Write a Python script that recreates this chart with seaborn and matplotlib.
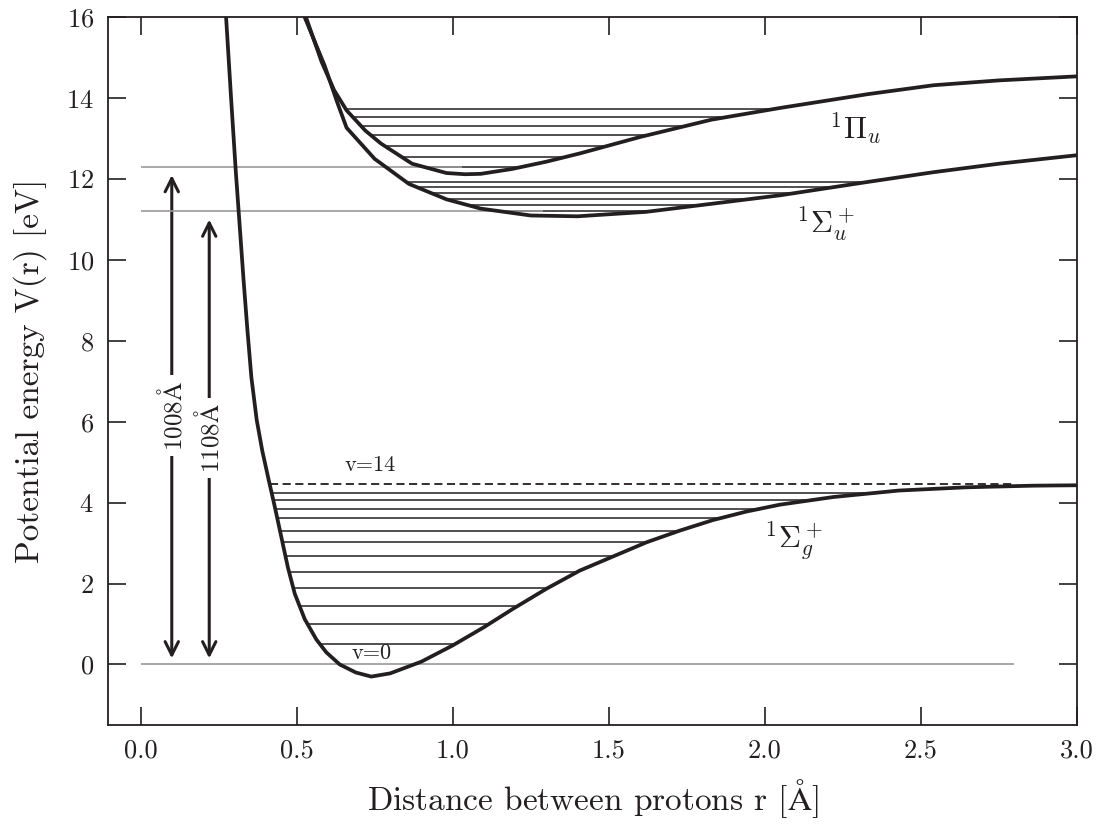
import numpy as np
import pandas as pd
import matplotlib
matplotlib.use("Agg")
import matplotlib.pyplot as plt
import seaborn as sns

# ---------------- data ----------------
# ground state 1Sigma_g+
g_r = [0.274, 0.29, 0.305, 0.318, 0.33, 0.342, 0.355, 0.372, 0.39, 0.41, 0.43, 0.451,
       0.472, 0.494, 0.526, 0.563, 0.595, 0.638, 0.69, 0.739, 0.80, 0.90, 1.00, 1.10,
       1.19, 1.30, 1.407, 1.514, 1.621, 1.728, 1.834, 1.941, 2.048, 2.22, 2.43,
       2.646, 2.86, 3.0]
g_V = [16.0, 14.0, 12.2, 10.8, 9.5, 8.3, 7.1, 6.05, 5.28, 4.58, 3.9, 3.15,
       2.4, 1.75, 1.12, 0.62, 0.30, 0.0, -0.2, -0.30, -0.22, 0.07, 0.47, 0.92,
       1.36, 1.87, 2.32, 2.67, 3.02, 3.31, 3.57, 3.78, 3.95, 4.14, 4.30,
       4.38, 4.42, 4.43]
# excited state 1Sigma_u+
su_r = [0.526, 0.59, 0.63, 0.66, 0.75, 0.86, 0.98, 1.09, 1.25, 1.40, 1.62, 1.83,
        2.05, 2.33, 2.54, 2.75, 3.0]
su_V = [16.0, 14.8, 13.9, 13.27, 12.5, 11.88, 11.5, 11.27, 11.10, 11.08, 11.19, 11.39,
        11.60, 11.93, 12.17, 12.38, 12.59]
# excited state 1Pi_u
pu_r = [0.53, 0.58, 0.62, 0.66, 0.72, 0.77, 0.87, 0.98, 1.04, 1.09, 1.19, 1.30, 1.41,
        1.60, 1.83, 2.05, 2.33, 2.54, 2.75, 3.0]
pu_V = [16.0, 14.9, 14.2, 13.70, 13.2, 12.88, 12.38, 12.15, 12.12, 12.13, 12.25, 12.43,
        12.64, 13.04, 13.47, 13.76, 14.10, 14.32, 14.44, 14.54]

# vibrational levels [eV]
g_levels = [0.51, 0.99, 1.45, 1.89, 2.28, 2.67, 3.02, 3.31, 3.61, 3.85, 4.07, 4.25]
g_limit = 4.47            # v=14 (dashed)
su_levels = [11.20, 11.35, 11.50, 11.65, 11.80, 11.94]
pu_levels = [12.29, 12.54, 12.82, 13.08, 13.31, 13.54, 13.74]

# grey reference lines: energy and right end [Å]
ref_E = [0.0, 11.2, 12.3]
ref_end = [2.8, 1.29, 1.03]

# transitions
arrow_r = [0.1, 0.22]
arrow_E = [12.3, 11.2]
arrow_labels = [r"1008$\mathrm{\AA}$", r"1108$\mathrm{\AA}$"]

# ---------------- style ----------------
sns.set_theme(style="ticks")
plt.rcParams["font.family"] = ["cmr10", "DejaVu Serif"]
plt.rcParams["mathtext.fontset"] = "cm"
plt.rcParams["axes.formatter.use_mathtext"] = True
plt.rcParams["axes.unicode_minus"] = False

fig = plt.figure(figsize=(11, 8.24), dpi=100)
ax = fig.add_axes([0.098, 0.12, 0.881, 0.859])

curve_kw = dict(color="#231f20", linewidth=2.7, sort=False, estimator=None, legend=False)
for r, V in [(g_r, g_V), (su_r, su_V), (pu_r, pu_V)]:
    df = pd.DataFrame({"r": r, "V": V})
    sns.lineplot(data=df, x="r", y="V", ax=ax, zorder=5, **curve_kw)


def crossings(r, V, E):
    r = np.asarray(r)
    V = np.asarray(V)
    i0 = int(np.argmin(V))
    lr, lV = r[: i0 + 1][::-1], V[: i0 + 1][::-1]
    rr, rV = r[i0:], V[i0:]
    left = np.interp(E, lV, lr)
    right = np.interp(E, rV, rr) if E <= rV.max() else None
    return left, right


lvl_color = "#231f20"
for r, V, levels in [(g_r, g_V, g_levels), (su_r, su_V, su_levels), (pu_r, pu_V, pu_levels)]:
    for E in levels:
        a, b = crossings(r, V, E)
        ax.hlines(E, a, b, color=lvl_color, linewidth=1.1, zorder=3)

a, _ = crossings(g_r, g_V, g_limit)
ax.hlines(g_limit, a, ref_end[0], color=lvl_color, linewidth=1.3,
          linestyles=(0, (4.5, 2.5)), zorder=3)

for E, e in zip(ref_E, ref_end):
    ax.hlines(E, 0.0, e, color="#9a9a9a", linewidth=1.2, zorder=4)

# transition arrows
for xr, E in zip(arrow_r, arrow_E):
    ax.annotate("", xy=(xr, 0.15), xytext=(xr, E - 0.2),
                arrowprops=dict(arrowstyle="<->", color="#231f20", lw=2.2,
                                mutation_scale=24, shrinkA=0, shrinkB=0))
lab_y = [6.15, 5.6]
for xr, y, lab in zip(arrow_r, lab_y, arrow_labels):
    ax.text(xr, y, lab, rotation=90, ha="center", va="center", fontsize=18,
            color="#231f20", zorder=6,
            bbox=dict(facecolor="white", edgecolor="none", pad=4))

# state labels
ax.text(2.29, 13.25, r"$^1\Pi_u$", fontsize=22, ha="center", va="center", color="#231f20")
ax.text(2.195, 10.9, r"$^1\Sigma_u^+$", fontsize=22, ha="center", va="center", color="#231f20")
ax.text(2.09, 3.05, r"$^1\Sigma_g^+$", fontsize=22, ha="center", va="center", color="#231f20")
ax.text(0.735, 4.92, "v=14", fontsize=16, ha="center", va="center", color="#231f20")
ax.text(0.74, 0.27, "v=0", fontsize=16, ha="center", va="center", color="#231f20")

ax.set_xlim(-0.105, 3.0)
ax.set_ylim(-1.5, 16)
ax.set_xticks([0.0, 0.5, 1.0, 1.5, 2.0, 2.5, 3.0])
ax.set_xticklabels(["0.0", "0.5", "1.0", "1.5", "2.0", "2.5", "3.0"])
ax.set_yticks(range(0, 17, 2))
ax.tick_params(direction="in", length=13, width=1.2, top=True, right=True,
               labelsize=19, colors="#231f20", pad=10)
for s in ax.spines.values():
    s.set_linewidth(1.3)
    s.set_color("#231f20")

ax.set_xlabel(r"Distance between protons r [$\mathrm{\AA}$]", fontsize=24, labelpad=10,
              color="#231f20")
ax.set_ylabel("Potential energy V(r) [eV]", fontsize=24, labelpad=14, color="#231f20")

fig.savefig("out.png", dpi=100)
